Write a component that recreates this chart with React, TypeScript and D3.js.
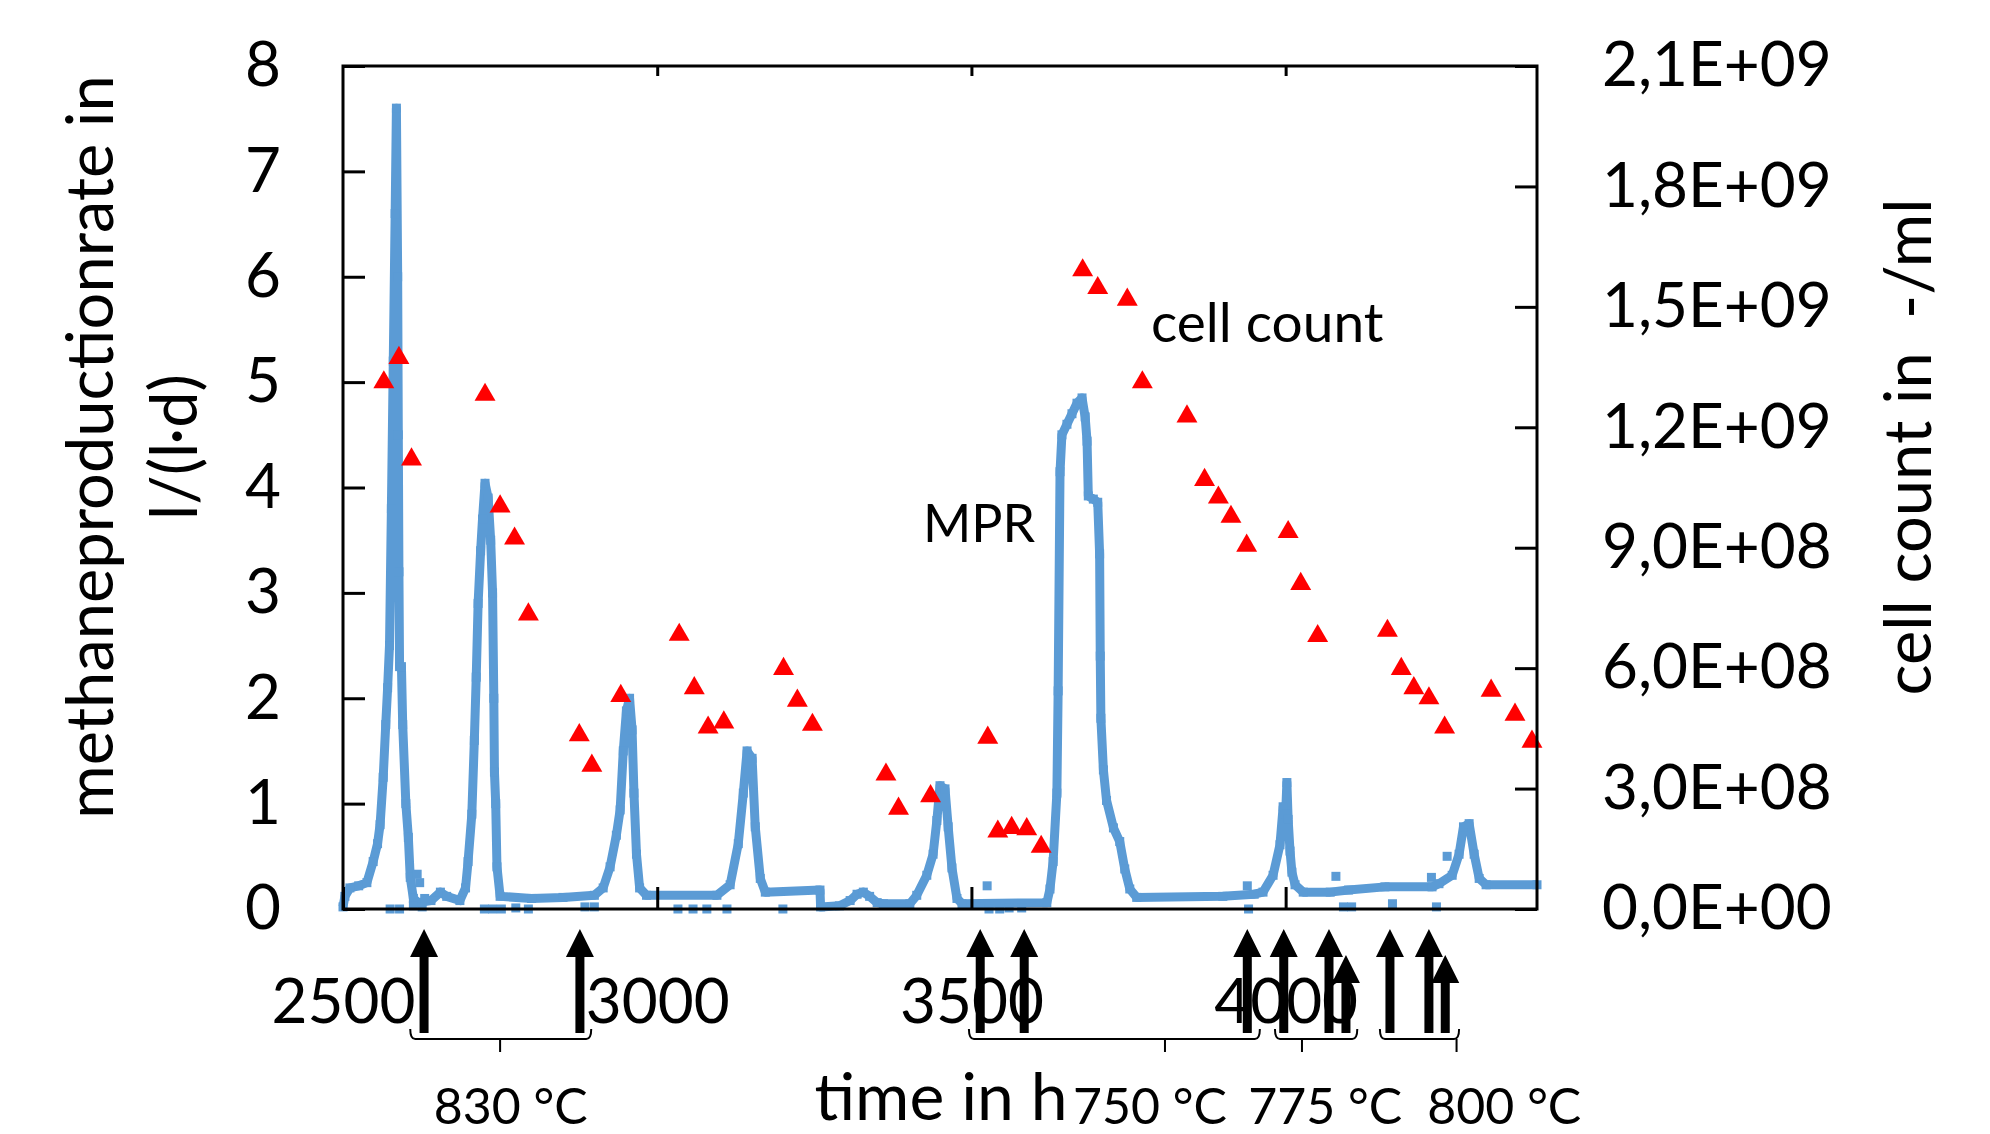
import { useEffect, useRef } from 'react';
import * as d3 from 'd3';

const W = 1990;
const H = 1134;

// methane production rate (l/(l·d))
const mprTime = [
  2500, 2503, 2511, 2525, 2538, 2548, 2555, 2559, 2564, 2568, 2571, 2574, 2577, 2580, 2583, 2585,
  2587, 2588, 2589, 2590, 2593, 2595, 2600, 2604, 2607, 2612, 2620, 2640, 2655, 2665, 2686, 2695,
  2699, 2705, 2709, 2712, 2715, 2719, 2722, 2726, 2731, 2735, 2738, 2740, 2741, 2743, 2745, 2750,
  2800, 2850, 2900, 2914, 2925, 2935, 2941, 2946, 2951, 2956, 2960, 2963, 2967, 2972, 2983, 3095,
  3116, 3129, 3137, 3143, 3151, 3156, 3164, 3172, 3259, 3260, 3290, 3307, 3318, 3328, 3338, 3350,
  3360, 3402, 3413, 3429, 3439, 3445, 3450, 3458, 3463, 3469, 3477, 3485, 3620, 3625, 3630, 3636,
  3638, 3641, 3644, 3652, 3660, 3668, 3676, 3681, 3684, 3686, 3694, 3701, 3704, 3705, 3706, 3710,
  3715, 3726, 3736, 3744, 3752, 3763, 3900, 3950, 3964, 3980, 3991, 3996, 4000, 4002, 4004, 4007,
  4010, 4015, 4028, 4071, 4100, 4158, 4233, 4244, 4265, 4276, 4283, 4292, 4300, 4308, 4319, 4400,
];
const mprValue = [
  0.02, 0.12, 0.2, 0.22, 0.25, 0.45, 0.62, 0.8, 1.25, 1.75, 2.1, 2.5, 3.8, 5.2, 6.6, 7.6,
  6.0, 4.5, 3.2, 2.3, 2.3, 1.75, 1.0, 0.68, 0.3, 0.1, 0.06, 0.08, 0.16, 0.12, 0.08, 0.2,
  0.45, 0.9, 1.6, 2.2, 2.9, 3.4, 3.7, 4.04, 3.9, 3.5, 3.0, 2.0, 1.3, 1.0, 0.4, 0.12,
  0.1, 0.11, 0.13, 0.2, 0.4, 0.7, 0.94, 1.5, 1.88, 2.0, 1.7, 1.1, 0.52, 0.2, 0.13, 0.13,
  0.23, 0.62, 1.1, 1.5, 1.43, 0.78, 0.29, 0.16, 0.18, 0.02, 0.03, 0.08, 0.14, 0.16, 0.12, 0.06,
  0.05, 0.05, 0.13, 0.32, 0.52, 0.84, 1.17, 1.14, 0.78, 0.39, 0.1, 0.05, 0.06, 0.19, 0.45, 1.1,
  2.07, 4.15, 4.5, 4.6, 4.7, 4.8, 4.85, 4.67, 4.44, 3.92, 3.89, 3.86, 3.37, 2.4, 1.81, 1.32,
  1.03, 0.77, 0.64, 0.38, 0.19, 0.11, 0.12, 0.14, 0.16, 0.32, 0.61, 0.97, 0.9, 1.2, 0.85, 0.55,
  0.35, 0.23, 0.16, 0.16, 0.18, 0.21, 0.21, 0.24, 0.32, 0.52, 0.78, 0.81, 0.52, 0.29, 0.23, 0.23,
];

// single MPR readings (drop-outs and spikes)
const strayTime = [
  2575, 2590, 2612, 2618, 2622, 2626, 2630, 2725, 2738, 2752, 2775, 2795, 2885, 2900, 3033, 3057,
  3079, 3111, 3200, 3525, 3528, 3545, 3560, 3580, 3939, 3941, 4080, 4092, 4105, 4170, 4232, 4240, 4257,
];
const strayValue = [
  0, 0, 0.03, 0.33, 0.25, 0.02, 0.1, 0, 0, 0, 0.01, 0, 0.02, 0.02, 0, 0,
  0, 0, 0, 0.22, 0, 0, 0.01, 0.01, 0.22, 0, 0.31, 0.02, 0.02, 0.05, 0.3, 0.02, 0.5,
];

// cell count (1/ml)
const cellTime = [
  2565, 2589, 2609, 2726, 2750, 2773, 2795, 2876, 2896, 2942, 3035, 3059, 3081, 3106, 3201, 3223,
  3247, 3364, 3384, 3435, 3526, 3542, 3564, 3588, 3611, 3677, 3701, 3748, 3772, 3843, 3871, 3893,
  3913, 3938, 4004, 4024, 4051, 4162, 4184, 4204, 4228, 4253, 4327, 4365, 4392,
];
const cellCount = [
  1.312e9, 1.373e9, 1.12e9, 1.281e9, 1.003e9, 0.923e9, 0.734e9, 0.433e9, 0.357e9, 0.531e9, 0.683e9, 0.55e9, 0.452e9, 0.465e9, 0.598e9, 0.519e9,
  0.459e9, 0.335e9, 0.25e9, 0.281e9, 0.427e9, 0.193e9, 0.202e9, 0.199e9, 0.155e9, 1.591e9, 1.547e9, 1.518e9, 1.312e9, 1.227e9, 1.069e9, 1.025e9,
  0.977e9, 0.905e9, 0.939e9, 0.81e9, 0.68e9, 0.693e9, 0.598e9, 0.55e9, 0.525e9, 0.452e9, 0.544e9, 0.484e9, 0.417e9,
];

const leftTicks = [0, 1, 2, 3, 4, 5, 6, 7, 8];
const rightTicks = [0, 3e8, 6e8, 9e8, 1.2e9, 1.5e9, 1.8e9, 2.1e9];
const rightTickLabels = ['0,0E+00', '3,0E+08', '6,0E+08', '9,0E+08', '1,2E+09', '1,5E+09', '1,8E+09', '2,1E+09'];
const timeTicks = [2500, 3000, 3500, 4000];

// sampling arrows under the axis
const arrowTime = [2629, 2877, 3514, 3584, 3939, 3997, 4069, 4166, 4228];
const arrowLowTime = [4096, 4254];

// temperature phases
const phaseLabel = ['830 °C', '750 °C', '775 °C', '800 °C'];
const phaseStart = [2607, 3496, 3983, 4150];
const phaseEnd = [2895, 3959, 4114, 4276];
const phaseMid = [2750, 3808, 4026, 4272];
const phaseLabelTime = [2767, 3784, 4063, 4348];

export default function App() {
  const ref = useRef<SVGSVGElement>(null);

  useEffect(() => {
    const svg = d3.select(ref.current);
    svg.selectAll('*').remove();

    const left = 343, right = 1537, top = 66, bottom = 909;
    const font = 'Lato, "Open Sans", sans-serif';

    const x = d3.scaleLinear().domain([2500, 4400]).range([left, right]);
    const y = d3.scaleLinear().domain([0, 8]).range([bottom, top]);
    const yR = d3.scaleLinear().domain([0, 2.1e9]).range([bottom, top]);

    svg.append('rect').attr('width', W).attr('height', H).attr('fill', '#fff');

    // MPR curve
    const pts = mprTime.map((t, i) => [t, mprValue[i]] as [number, number]);
    const line = d3.line<[number, number]>().x(d => x(d[0])).y(d => y(d[1]));
    svg.append('path')
      .datum(pts)
      .attr('d', line)
      .attr('fill', 'none')
      .attr('stroke', '#5b9bd5')
      .attr('stroke-width', 9)
      .attr('stroke-linejoin', 'round');

    const sq = 9;
    svg.append('g').selectAll('rect')
      .data(pts.concat(strayTime.map((t, i) => [t, strayValue[i]] as [number, number])))
      .enter()
      .append('rect')
      .attr('x', d => x(d[0]) - sq / 2)
      .attr('y', d => y(d[1]) - sq / 2)
      .attr('width', sq)
      .attr('height', sq)
      .attr('fill', '#5b9bd5');

    // cell count triangles
    const tri = d3.symbol().type(d3.symbolTriangle).size(190);
    svg.append('g').selectAll('path')
      .data(cellTime)
      .enter()
      .append('path')
      .attr('d', tri)
      .attr('transform', (t, i) => `translate(${x(t)},${yR(cellCount[i])})`)
      .attr('fill', '#ff0000');

    // axes, ticks inside
    const styleAxis = (g: any, size: number) => {
      g.select('.domain').remove();
      g.selectAll('line').attr('stroke', '#000').attr('stroke-width', 3);
      g.selectAll('text').attr('font-family', font).attr('font-size', size).attr('fill', '#000');
    };

    svg.append('g')
      .attr('transform', `translate(${left},0)`)
      .call(d3.axisLeft(y).tickValues(leftTicks).tickFormat(d3.format('d')).tickSize(-22).tickPadding(62))
      .call(g => styleAxis(g, 62));

    svg.append('g')
      .attr('transform', `translate(${right},0)`)
      .call(d3.axisRight(yR).tickValues(rightTicks).tickFormat((d, i) => rightTickLabels[i]).tickSize(-22).tickPadding(65))
      .call(g => styleAxis(g, 62));

    svg.append('g')
      .attr('transform', `translate(0,${bottom})`)
      .call(d3.axisBottom(x).tickValues(timeTicks).tickFormat(d3.format('d')).tickSize(-22).tickPadding(70))
      .call(g => styleAxis(g, 62));

    svg.append('g')
      .attr('transform', `translate(0,${top})`)
      .call(d3.axisTop(x).tickValues(timeTicks.slice(1)).tickFormat(() => '').tickSize(-10))
      .call(g => styleAxis(g, 62));

    svg.append('rect')
      .attr('x', left).attr('y', top)
      .attr('width', right - left).attr('height', bottom - top)
      .attr('fill', 'none').attr('stroke', '#000').attr('stroke-width', 3);

    // arrows
    const arrow = (xc: number, tipY: number, baseY: number) => {
      const hw = 14, hh = 28, sw = 4.5;
      return `M${xc},${tipY} L${xc + hw},${tipY + hh} L${xc + sw},${tipY + hh} L${xc + sw},${baseY} ` +
        `L${xc - sw},${baseY} L${xc - sw},${tipY + hh} L${xc - hw},${tipY + hh} Z`;
    };
    svg.append('g').selectAll('path')
      .data(arrowTime.map(t => ({ t, tip: 929 })).concat(arrowLowTime.map(t => ({ t, tip: 955 }))))
      .enter()
      .append('path')
      .attr('d', d => arrow(x(d.t), d.tip, 1033))
      .attr('fill', '#000');

    // phase braces
    const by = 1039;
    svg.append('g').selectAll('path')
      .data(phaseStart)
      .enter()
      .append('path')
      .attr('d', (t, i) => {
        const x0 = x(t), x1 = x(phaseEnd[i]), xm = x(phaseMid[i]);
        return `M${x0},${by - 10} Q${x0},${by} ${x0 + 5},${by} L${x1 - 5},${by} Q${x1},${by} ${x1},${by - 10} ` +
          `M${xm},${by} L${xm},${by + 13}`;
      })
      .attr('fill', 'none')
      .attr('stroke', '#000')
      .attr('stroke-width', 2);

    svg.append('g').selectAll('text')
      .data(phaseLabel)
      .enter()
      .append('text')
      .attr('x', (d, i) => x(phaseLabelTime[i]))
      .attr('y', 1124)
      .attr('text-anchor', 'middle')
      .attr('font-family', font)
      .attr('font-size', 50)
      .text(d => d);

    // titles
    svg.append('text')
      .attr('x', 941).attr('y', 1120)
      .attr('text-anchor', 'middle')
      .attr('font-family', font).attr('font-size', 66)
      .text('time in h');

    const leftTitle = svg.append('g').attr('font-family', font).attr('font-size', 65).attr('text-anchor', 'middle');
    leftTitle.append('text')
      .attr('transform', 'translate(113,447) rotate(-90)')
      .text('methaneproductionrate in');
    leftTitle.append('text')
      .attr('transform', 'translate(197,447) rotate(-90)')
      .text('l/(l·d)');

    svg.append('text')
      .attr('transform', 'translate(1931,447) rotate(-90)')
      .attr('text-anchor', 'middle')
      .attr('font-family', font).attr('font-size', 65)
      .attr('xml:space', 'preserve')
      .style('white-space', 'pre')
      .text('cell count in  -/ml');

    svg.append('text')
      .attr('x', 1151).attr('y', 342)
      .attr('font-family', font).attr('font-size', 55)
      .text('cell count');

    svg.append('text')
      .attr('x', 923).attr('y', 542)
      .attr('font-family', font).attr('font-size', 52)
      .text('MPR');
  }, []);

  return (
    <svg
      ref={ref}
      width={W}
      height={H}
      style={{ position: 'absolute', left: 0, top: 0, display: 'block' }}
    />
  );
}
